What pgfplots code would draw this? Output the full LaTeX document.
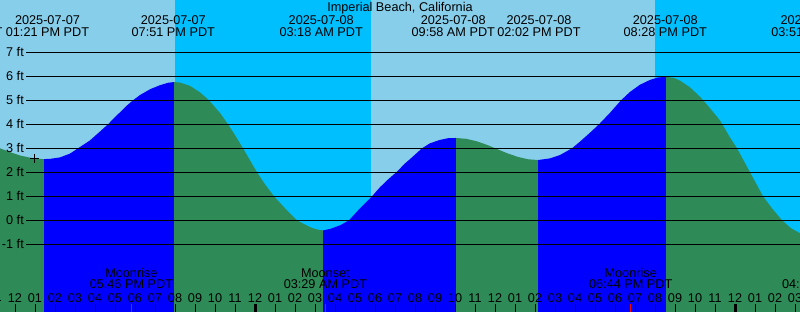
\documentclass[border=0pt]{standalone}
\usepackage{pgfplots}
\pgfplotsset{compat=1.18}
\usepackage{fontspec}
\setmainfont{Liberation Sans}
\definecolor{daysky}{RGB}{135,206,235}
\definecolor{nightsky}{RGB}{0,191,255}
\definecolor{flood}{RGB}{0,0,255}
\definecolor{ebb}{RGB}{46,139,87}
\newcommand\lbl{\fontsize{12.7bp}{14bp}\selectfont}
\tikzset{lbl/.style={font=\lbl, inner sep=0pt, anchor=base}}
\begin{document}
\begin{tikzpicture}
\begin{axis}[
  at={(0,0)}, anchor=south west,
  width=800bp, height=312bp, scale only axis,
  xmin=11.25, xmax=51.25, ymin=-3.8208, ymax=9.1792,
  axis line style={draw=none},
  axis on top,
  xtick={12,...,51},
  xticklabels={12,01,02,03,04,05,06,07,08,09,10,11,12,01,02,03,04,05,06,07,08,09,10,11,12,01,02,03,04,05,06,07,08,09,10,11,12,01,02,03},
  xtick pos=lower, tick align=inside, major tick length=8bp,
  tick style={black, line width=1bp},
  ytick=\empty,
  xticklabel style={anchor=base, yshift=10bp, font=\lbl, inner sep=0pt, text=black},
  /pgf/number format/assume math mode=true,
]
% day / night background
\addplot[fill=daysky, draw=none] coordinates {(10,-4) (10,10) (20.0,10) (20.0,-4)};
\addplot[fill=nightsky, draw=none] coordinates {(20.0,-4) (20.0,10) (29.8,10) (29.8,-4)};
\addplot[fill=daysky, draw=none] coordinates {(29.8,-4) (29.8,10) (44.0,10) (44.0,-4)};
\addplot[fill=nightsky, draw=none] coordinates {(44.0,-4) (44.0,10) (53,10) (53,-4)};
% tide: falling (ebb) and rising (flood) segments
\addplot[fill=ebb, draw=none] coordinates {(10.75,-4) (10.75,3.20) (11.25,3.00) (11.75,2.84) (12.25,2.70) (12.75,2.61) (13.15,2.56) (13.45,2.55) (13.45,-4)};
\addplot[fill=flood, draw=none] coordinates {(13.45,-4) (13.45,2.55) (13.75,2.56) (14.25,2.62) (14.75,2.78) (15.15,3.00) (15.75,3.33) (16.25,3.70) (16.65,4.00) (17.00,4.30) (17.25,4.50) (17.55,4.75) (17.90,5.00) (18.25,5.22) (18.75,5.46) (19.25,5.63) (19.65,5.73) (19.95,5.76) (19.95,-4)};
\addplot[fill=ebb, draw=none] coordinates {(19.95,-4) (19.95,5.76) (20.25,5.74) (20.75,5.60) (21.25,5.33) (21.70,5.00) (22.25,4.47) (22.65,4.00) (23.00,3.55) (23.40,3.00) (23.75,2.50) (24.10,2.00) (24.50,1.50) (24.95,1.00) (25.50,0.50) (26.10,0.00) (26.50,-0.18) (26.85,-0.32) (27.15,-0.39) (27.40,-0.42) (27.40,-4)};
\addplot[fill=flood, draw=none] coordinates {(27.40,-4) (27.40,-0.42) (27.75,-0.36) (28.25,-0.21) (28.70,0.00) (29.25,0.50) (29.85,1.00) (30.25,1.38) (30.65,1.70) (31.10,2.03) (31.50,2.37) (31.75,2.55) (32.35,3.00) (32.75,3.21) (33.25,3.35) (33.65,3.42) (34.05,3.43) (34.05,-4)};
\addplot[fill=ebb, draw=none] coordinates {(34.05,-4) (34.05,3.43) (34.56,3.395) (35.08,3.295) (35.59,3.146) (36.10,2.97) (36.61,2.794) (37.13,2.645) (37.64,2.545) (38.15,2.51) (38.15,-4)};
\addplot[fill=flood, draw=none] coordinates {(38.15,-4) (38.15,2.51) (38.75,2.58) (39.25,2.72) (39.85,3.00) (40.25,3.28) (40.75,3.65) (41.20,4.00) (41.75,4.48) (42.30,5.00) (42.75,5.35) (43.25,5.65) (43.75,5.85) (44.15,5.95) (44.55,5.98) (44.55,-4)};
\addplot[fill=ebb, draw=none] coordinates {(44.55,-4) (44.55,5.98) (44.95,5.93) (45.25,5.82) (45.75,5.54) (46.25,5.15) (46.75,4.67) (47.25,4.16) (47.75,3.45) (48.10,3.00) (48.75,2.00) (49.40,1.00) (49.85,0.50) (50.35,0.00) (50.80,-0.33) (51.25,-0.54) (51.85,-0.70) (51.85,-4)};
% level lines
\pgfplotsinvokeforeach{-1,...,7}{
  \addplot[black, line width=1bp] coordinates {(12.55,#1) (53,#1)};
}
% current-time mark
\addplot[only marks, mark=+, mark size=4.5bp, black, line width=1bp] coordinates {(12.965,2.583)};
% moonrise / moonset ticks
\addplot[red, line width=1bp] coordinates {(17.82,-3.9) (17.82,-3.487)};
\addplot[red, line width=1bp] coordinates {(27.52,-3.9) (27.52,-3.487)};
\addplot[red, line width=1bp] coordinates {(42.785,-3.9) (42.785,-3.487)};
% midnight ticks
\addplot[black, line width=3bp] coordinates {(24,-3.9) (24,-3.487)};
\addplot[black, line width=3bp] coordinates {(48,-3.9) (48,-3.487)};
% y labels
\node[lbl, anchor=base east] at (axis cs:12.45,6.845) {7 ft};
\node[lbl, anchor=base east] at (axis cs:12.45,5.845) {6 ft};
\node[lbl, anchor=base east] at (axis cs:12.45,4.845) {5 ft};
\node[lbl, anchor=base east] at (axis cs:12.45,3.845) {4 ft};
\node[lbl, anchor=base east] at (axis cs:12.45,2.845) {3 ft};
\node[lbl, anchor=base east] at (axis cs:12.45,1.845) {2 ft};
\node[lbl, anchor=base east] at (axis cs:12.45,0.845) {1 ft};
\node[lbl, anchor=base east] at (axis cs:12.45,-0.155) {0 ft};
\node[lbl, anchor=base east] at (axis cs:12.45,-1.155) {-1 ft};
% title
\node[lbl] at (axis cs:31.25,8.692) {Imperial Beach, California};
% tide event labels
\node[lbl, anchor=base east] at (axis cs:11.385,7.679) {07:27 AM PDT};
\node[lbl] at (axis cs:13.625,8.179) {2025-07-07};
\node[lbl] at (axis cs:13.625,7.679) {01:21 PM PDT};
\node[lbl] at (axis cs:19.915,8.179) {2025-07-07};
\node[lbl] at (axis cs:19.915,7.679) {07:51 PM PDT};
\node[lbl] at (axis cs:27.31,8.179) {2025-07-08};
\node[lbl] at (axis cs:27.31,7.679) {03:18 AM PDT};
\node[lbl] at (axis cs:33.915,8.179) {2025-07-08};
\node[lbl] at (axis cs:33.915,7.679) {09:58 AM PDT};
\node[lbl] at (axis cs:38.2,8.179) {2025-07-08};
\node[lbl] at (axis cs:38.2,7.679) {02:02 PM PDT};
\node[lbl] at (axis cs:44.515,8.179) {2025-07-08};
\node[lbl] at (axis cs:44.515,7.679) {08:28 PM PDT};
\node[lbl] at (axis cs:51.9,8.179) {2025-07-09};
\node[lbl] at (axis cs:51.9,7.679) {03:51 AM PDT};
% moon labels
\node[lbl] at (axis cs:17.82,-2.375) {Moonrise};
\node[lbl] at (axis cs:17.82,-2.85) {05:46 PM PDT};
\node[lbl] at (axis cs:27.52,-2.375) {Moonset};
\node[lbl] at (axis cs:27.52,-2.85) {03:29 AM PDT};
\node[lbl] at (axis cs:42.785,-2.375) {Moonrise};
\node[lbl] at (axis cs:42.785,-2.85) {06:44 PM PDT};
\node[lbl] at (axis cs:52.435,-2.375) {Moonset};
\node[lbl] at (axis cs:52.435,-2.85) {04:25 AM PDT};
% partial hour label at the left edge
\node[lbl] at (axis cs:11,-3.404) {11};
\end{axis}
\pgfresetboundingbox
\useasboundingbox (0,0) rectangle (800bp,312bp);
\end{tikzpicture}
\end{document}
